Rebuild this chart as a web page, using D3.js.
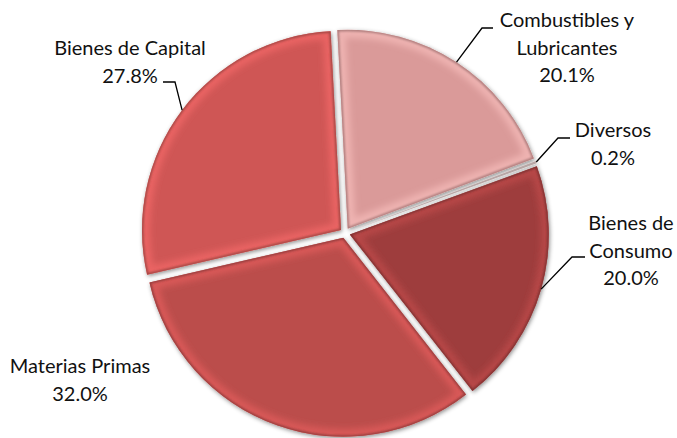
<!DOCTYPE html>
<html>
<head>
<meta charset="utf-8">
<title>Pie</title>
<script src="https://cdn.jsdelivr.net/npm/d3@7/dist/d3.min.js"></script>
<style>
body { margin:0; background:#fff; }
text { font-family: Lato, "Liberation Sans", sans-serif; font-size:20px; fill:#111; }
</style>
</head>
<body>
<script>
// data
var categories = ["Combustibles y Lubricantes", "Diversos", "Bienes de Consumo", "Materias Primas", "Bienes de Capital"];
var values = [20.1, 0.2, 20.0, 32.0, 27.8];
var labelLines = [["Combustibles y", "Lubricantes"], ["Diversos"], ["Bienes de", "Consumo"], ["Materias Primas"], ["Bienes de Capital"]];
var colors = ["#da9a99", "#ecd2d1", "#9e3e3d", "#bb4d4b", "#cf5755"];

var width = 677, height = 438;
var cx = 345, cy = 233, r = 199, explode = 5;
var start = -3 * Math.PI / 180;

// label layout: text center x, first baseline y, elbow point, end of horizontal tick
var labelLayout = [
  { tx: 567, ty: 27, ex: 482, ey: 28, hx: 493 },
  { tx: 613, ty: 137, ex: 558, ey: 138, hx: 570 },
  { tx: 631, ty: 230, ex: 572, ey: 257, hx: 585 },
  { tx: 80, ty: 373, ex: null },
  { tx: 130, ty: 55, ex: 175, ey: 82, hx: 163 }
];
var lineH = 27.5;

var svg = d3.select("body").append("svg").attr("width", width).attr("height", height);
var defs = svg.append("defs");

var shadow = defs.append("filter").attr("id", "shadow").attr("x", "-10%").attr("y", "-10%").attr("width", "120%").attr("height", "120%");
shadow.append("feDropShadow").attr("dx", 1).attr("dy", 1.5).attr("stdDeviation", 2).attr("flood-color", "#000").attr("flood-opacity", 0.45);
defs.append("filter").attr("id", "blur3").append("feGaussianBlur").attr("stdDeviation", 3);
defs.append("filter").attr("id", "blur1").append("feGaussianBlur").attr("stdDeviation", 1);

var pie = d3.pie().sort(null).value(function(d) { return d; })
  .startAngle(start).endAngle(start + 2 * Math.PI);
var arcs = pie(values);
var arc = d3.arc().innerRadius(0).outerRadius(r);
var edgeArc = d3.arc().innerRadius(r + explode).outerRadius(r + explode);

function offset(d) {
  var a = (d.startAngle + d.endAngle) / 2;
  return [Math.sin(a) * explode, -Math.cos(a) * explode];
}

var g = svg.append("g").attr("transform", "translate(" + cx + "," + cy + ")");

var slices = g.selectAll("g.slice").data(arcs).enter().append("g")
  .attr("class", "slice")
  .attr("transform", function(d) { var o = offset(d); return "translate(" + o[0] + "," + o[1] + ")"; });

slices.each(function(d, i) {
  var s = d3.select(this);
  var path = arc(d);
  defs.append("clipPath").attr("id", "clip" + i).append("path").attr("d", path);
  s.append("path").attr("d", path).attr("fill", colors[i]).attr("filter", "url(#shadow)");
  var inner = s.append("g").attr("clip-path", "url(#clip" + i + ")");
  inner.append("path").attr("d", path).attr("fill", "none")
    .attr("stroke", d3.color(colors[i]).brighter(0.7)).attr("stroke-width", 16)
    .attr("stroke-opacity", 0.55).attr("filter", "url(#blur3)");
  inner.append("path").attr("d", path).attr("fill", "none")
    .attr("stroke", d3.color(colors[i]).darker(1)).attr("stroke-width", 3)
    .attr("stroke-opacity", 0.8).attr("filter", "url(#blur1)");
});

// labels
labelLayout.forEach(function(l, i) {
  var lines = labelLines[i].concat([values[i].toFixed(1) + "%"]);
  var t = svg.append("text").attr("text-anchor", "middle");
  lines.forEach(function(s, k) {
    t.append("tspan").attr("x", l.tx).attr("y", l.ty + k * lineH).text(s);
  });
  if (l.ex !== null) {
    var c = edgeArc.centroid(arcs[i]);
    svg.append("path")
      .attr("d", d3.line()([[cx + c[0], cy + c[1]], [l.ex, l.ey], [l.hx, l.ey]]))
      .attr("fill", "none").attr("stroke", "#000").attr("stroke-width", 1.3);
  }
});
</script>
</body>
</html>
